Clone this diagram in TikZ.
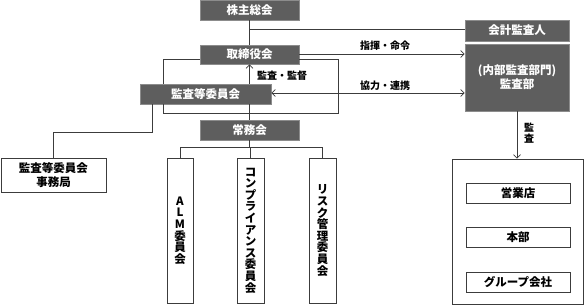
\documentclass[tikz,border=0pt]{standalone}
\usepackage{fontspec}
\newfontfamily\jp{Noto Sans CJK JP}
\usetikzlibrary{arrows.meta}
\definecolor{boxfill}{HTML}{5E5E5E}
\definecolor{boxedge}{HTML}{8C8C8C}
\definecolor{linec}{HTML}{3C3C3C}
\begin{document}
\begin{tikzpicture}[x=1pt,y=-1pt,
  dark/.style={draw=boxedge, fill=boxfill, text=white, line width=0.6pt, inner sep=0pt,
    font=\jp\bfseries\fontsize{11.5}{14}\selectfont, align=center},
  light/.style={draw=linec, fill=white, text=black, line width=0.7pt, inner sep=0pt,
    font=\jp\bfseries\fontsize{11.5}{14.5}\selectfont, align=center},
  vert/.style={light, font=\jp\bfseries\fontsize{11.5}{11.6}\selectfont},
  lbl/.style={font=\jp\bfseries\fontsize{10}{10.5}\selectfont, text=black, inner sep=0pt, align=center},
  conn/.style={draw=linec, line width=0.7pt},
  arr/.style={conn, -{Straight Barb[length=3.5pt,width=7pt,line width=0.7pt]}},
  darr/.style={conn, {Straight Barb[length=3.5pt,width=7pt,line width=0.7pt]}-{Straight Barb[length=3.5pt,width=7pt,line width=0.7pt]}}
]
\useasboundingbox (0,0) rectangle (584,305);

% dark boxes
\node[dark, minimum width=99pt, minimum height=20pt] (sh) at (249.5,10) {株主総会};
\node[dark, minimum width=99pt, minimum height=19pt] (tb) at (249.5,54.5) {取締役会};
\node[dark, minimum width=131pt, minimum height=20pt] (kt) at (205.5,94) {監査等委員会};
\node[dark, minimum width=99pt, minimum height=20pt] (jm) at (249.5,130) {常務会};
\node[dark, minimum width=104pt, minimum height=21pt] (ka) at (517,30.5) {会計監査人};
\node[dark, minimum width=104pt, minimum height=67pt] (kb) at (517,77.5) {(内部監査部門)\\監査部};

% white boxes
\node[light, minimum width=105pt, minimum height=34pt] (jk) at (53.5,175) {監査等委員会\\事務局};
\node[vert, minimum width=26pt, minimum height=145pt] (alm) at (180,230.5) {A\\L\\M\\委\\員\\会};
\node[vert, minimum width=27pt, minimum height=145pt] (cmp) at (250.5,230.5) {コ\\ン\\プ\\ラ\\イ\\ア\\ン\\ス\\委\\員\\会};
\node[vert, minimum width=27pt, minimum height=145pt] (rsk) at (322.5,230.5) {リ\\ス\\ク\\管\\理\\委\\員\\会};
\node[light, minimum width=131pt, minimum height=145pt] (big) at (517.5,231.5) {};
\node[light, minimum width=104pt, minimum height=20pt] (eig) at (518,193) {営業店};
\node[light, minimum width=104pt, minimum height=20pt] (hon) at (518,237) {本部};
\node[light, minimum width=104pt, minimum height=20pt] (grp) at (518,282) {グループ会社};

% helper coordinates
\coordinate (y30) at (0,29.5);
\coordinate (y54) at (0,54);
\coordinate (fL) at (163,59);
\coordinate (fR) at (338,113);
\coordinate (jc) at (152,132);
\coordinate (tr) at (0,147);

% connectors
\draw[conn] (sh.south) -- (tb.north);
\draw[conn] (sh.south |- y30) -- (ka.west |- y30);
\draw[arr] (tb.east |- y54) -- (kb.west |- y54);
\draw[conn] (tb.west |- fL) -- (fL) -- (fL |- kt.north);
\draw[conn] (fL |- kt.south) |- (fR) |- (tb.east |- fL);
\draw[arr] (tb.south |- kt.north) -- (tb.south);
\draw[conn] (jm.north |- kt.south) -- (jm.north);
\draw[darr] ([yshift=1pt]kt.east) -- ([yshift=1pt]kt.east -| kb.west);
\draw[conn] (kt.south -| jc) -- (jc) -| (jk.north);
\draw[conn] (jm.south) -- (jm.south |- tr);
\draw[conn] (alm.north) -- (alm.north |- tr) -- (rsk.north |- tr) -- (rsk.north);
\draw[conn] (cmp.north) -- (cmp.north |- tr);
\draw[arr] (kb.south) -- (kb.south |- big.north);

% labels
\node[lbl, anchor=west] (l1) at (360,46) {指揮・命令};
\node[lbl, anchor=west] (l2) at (360,86) {協力・連携};
\node[lbl, anchor=west] (l3) at (257,76) {監査・監督};
\node[lbl] (l4) at (529,133) {監\\査};
\end{tikzpicture}
\end{document}
